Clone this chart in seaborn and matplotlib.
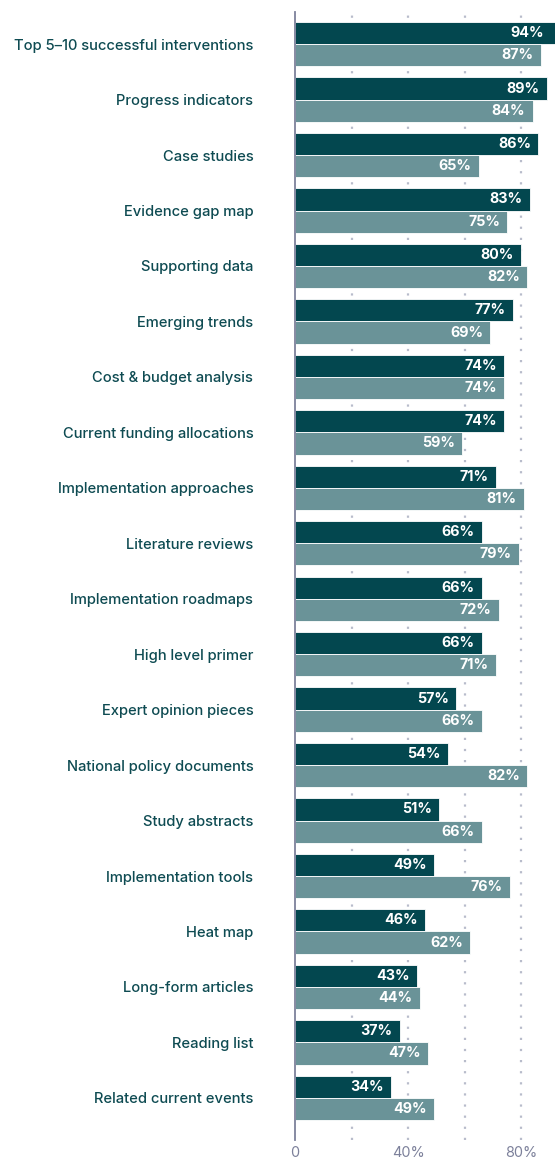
import matplotlib
matplotlib.use("Agg")
import matplotlib.pyplot as plt
import seaborn as sns
import pandas as pd

# data
categories = [
    "Top 5\u201310 successful interventions", "Progress indicators", "Case studies",
    "Evidence gap map", "Supporting data", "Emerging trends", "Cost & budget analysis",
    "Current funding allocations", "Implementation approaches", "Literature reviews",
    "Implementation roadmaps", "High level primer", "Expert opinion pieces",
    "National policy documents", "Study abstracts", "Implementation tools", "Heat map",
    "Long-form articles", "Reading list", "Related current events",
]
series_a = [94, 89, 86, 83, 80, 77, 74, 74, 71, 66, 66, 66, 57, 54, 51, 49, 46, 43, 37, 34]
series_b = [87, 84, 65, 75, 82, 69, 74, 59, 81, 79, 72, 71, 66, 82, 66, 76, 62, 44, 47, 49]
series_names = ["Series A", "Series B"]
tick_values = [0, 40, 80]
tick_labels = ["0", "40%", "80%"]

dark = "#03474f"
light = "#6a9398"
text_col = "#0e4b52"
axis_col = "#7d819b"

df = pd.DataFrame({
    "category": categories * 2,
    "series": [series_names[0]] * len(categories) + [series_names[1]] * len(categories),
    "value": series_a + series_b,
})

sns.set_theme(style="white")
plt.rcParams["font.family"] = ["Inter", "DejaVu Sans"]

fig = plt.figure(figsize=(5.55, 11.59), dpi=100)
ax = fig.add_axes([295 / 555, 1 - 1140 / 1159, 260 / 555, (1140 - 12) / 1159])

sns.barplot(data=df, y="category", x="value", hue="series", orient="h",
            palette=[dark, light], saturation=1, width=0.8, edgecolor="white",
            linewidth=0.6, legend=False, ax=ax, zorder=2)

xmax = 260 / 2.83
ax.set_xlim(0, xmax)
ax.set_ylim(19.76, -0.58)

# dotted gridlines
for g in [20, 40, 60, 80]:
    ax.axvline(g, color="#b8bccb", linestyle=(0, (1, 4)), linewidth=1.6, zorder=0)

# value labels inside bar ends
for cont in ax.containers:
    for bar in cont:
        w = bar.get_width()
        yc = bar.get_y() + bar.get_height() / 2
        xe = min(w, xmax - 1.2)
        ax.text(xe - 2.6, yc, f"{int(round(w))}%", ha="right", va="center",
                color="white", fontsize=10.3, fontweight="bold", zorder=3)

ax.set_xticks(tick_values)
ax.set_xticklabels(tick_labels)
ax.set_xlabel("")
ax.set_ylabel("")
ax.tick_params(axis="x", length=0, pad=4, labelsize=10.4, labelcolor=axis_col)
ax.tick_params(axis="y", length=0, pad=30, labelsize=10.6, labelcolor=text_col)
for lab in ax.get_yticklabels():
    lab.set_fontweight("medium")

for s in ["top", "right", "bottom"]:
    ax.spines[s].set_visible(False)
ax.spines["left"].set_color(axis_col)
ax.spines["left"].set_linewidth(1.3)
ax.spines["left"].set_zorder(4)

fig.savefig("out.png", dpi=100)
